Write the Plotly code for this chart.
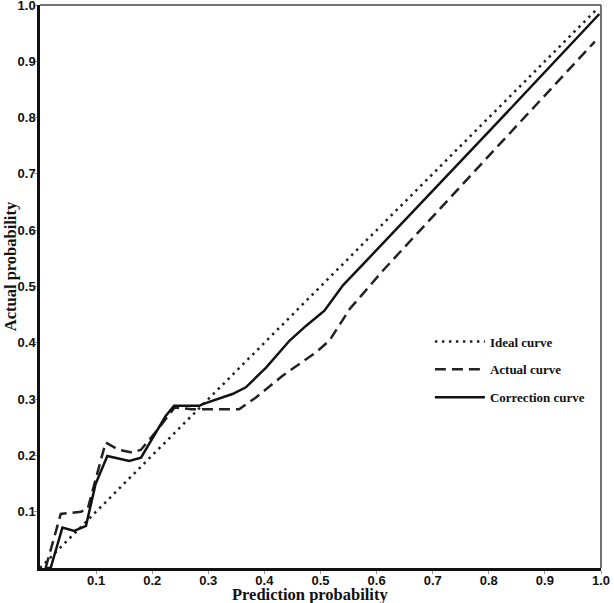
import plotly.graph_objects as go

# Data
ideal_x = [0.0, 0.99]
ideal_y = [0.0, 0.99]

actual_x = [0.01, 0.037, 0.073, 0.085, 0.117, 0.14, 0.165, 0.18, 0.205, 0.24, 0.27, 0.355,
            0.385, 0.433, 0.492, 0.516, 0.552, 0.611, 0.8, 0.989]
actual_y = [0.0, 0.096, 0.10, 0.105, 0.223, 0.21, 0.205, 0.21, 0.24, 0.285, 0.282, 0.282,
            0.303, 0.342, 0.383, 0.404, 0.46, 0.528, 0.732, 0.935]

corr_x = [0.01, 0.019, 0.04, 0.061, 0.082, 0.099, 0.12, 0.159, 0.18, 0.224, 0.239, 0.284,
          0.29, 0.343, 0.367, 0.403, 0.445, 0.474, 0.507, 0.54, 0.582, 0.8, 0.997]
corr_y = [0.0, 0.0, 0.072, 0.066, 0.075, 0.149, 0.199, 0.19, 0.196, 0.27, 0.288, 0.288,
          0.291, 0.309, 0.321, 0.356, 0.404, 0.43, 0.457, 0.502, 0.546, 0.775, 0.984]

tick_vals = [0.1, 0.2, 0.3, 0.4, 0.5, 0.6, 0.7, 0.8, 0.9, 1.0]
tick_text = ["0.1", "0.2", "0.3", "0.4", "0.5", "0.6", "0.7", "0.8", "0.9", "1.0"]

fig = go.Figure()
fig.add_trace(go.Scatter(x=ideal_x, y=ideal_y, mode="lines", name="Ideal curve",
                         legendgroup="a",
                         line=dict(color="#222", width=2.5, dash="2.5px,4.5px")))
fig.add_trace(go.Scatter(x=actual_x, y=actual_y, mode="lines", name="Actual curve",
                         legendgroup="b",
                         line=dict(color="#222", width=2.5, dash="11px,6px")))
fig.add_trace(go.Scatter(x=corr_x, y=corr_y, mode="lines", name="Correction curve",
                         legendgroup="c",
                         line=dict(color="#111", width=2.5)))

axis_common = dict(
    range=[0, 1], tickvals=tick_vals, ticktext=tick_text, automargin=False,
    showgrid=False, zeroline=False, showline=True, linecolor="#111", linewidth=2.5,
    ticks="outside", ticklen=3, tickcolor="#999", tickwidth=1,
    ticklabeloverflow="allow",
    tickfont=dict(family="Liberation Sans, Arial", size=13, color="#111", weight="bold"),
)

title_font = dict(family="Liberation Serif, Times New Roman", size=16.5,
                  color="#111", weight="bold")

fig.update_layout(
    width=614, height=603,
    margin=dict(l=40, r=13, t=5, b=35),
    paper_bgcolor="white", plot_bgcolor="white",
    xaxis=dict(**axis_common, ticklabelstandoff=-4),
    yaxis=dict(**axis_common, ticklabelstandoff=-4),
    legend=dict(x=0.695, y=0.429, xanchor="left", yanchor="top",
                traceorder="grouped", tracegroupgap=8, itemwidth=50,
                bgcolor="rgba(0,0,0,0)",
                font=dict(family="Liberation Serif, Times New Roman", size=13,
                          color="#111", weight="bold")),
    showlegend=True,
)

# axis titles
fig.add_annotation(text="Prediction probability", xref="paper", yref="paper",
                   x=0.482, y=0, yshift=-26, xanchor="center", yanchor="middle",
                   showarrow=False, font=title_font)
fig.add_annotation(text="Actual probability", xref="paper", yref="paper",
                   x=0, xshift=-30, y=0.536, xanchor="center", yanchor="middle",
                   textangle=-90, showarrow=False, font=title_font)

# thinner top/right frame
fig.add_shape(type="line", xref="paper", yref="paper", x0=0, x1=1, y0=1, y1=1,
              line=dict(color="#444", width=1.5))
fig.add_shape(type="line", xref="paper", yref="paper", x0=1, x1=1, y0=0, y1=1,
              line=dict(color="#444", width=1.5))

fig.write_html("out.html", config={"displayModeBar": False},
               post_script="document.body.style.margin='0';document.body.style.overflow='hidden';")
